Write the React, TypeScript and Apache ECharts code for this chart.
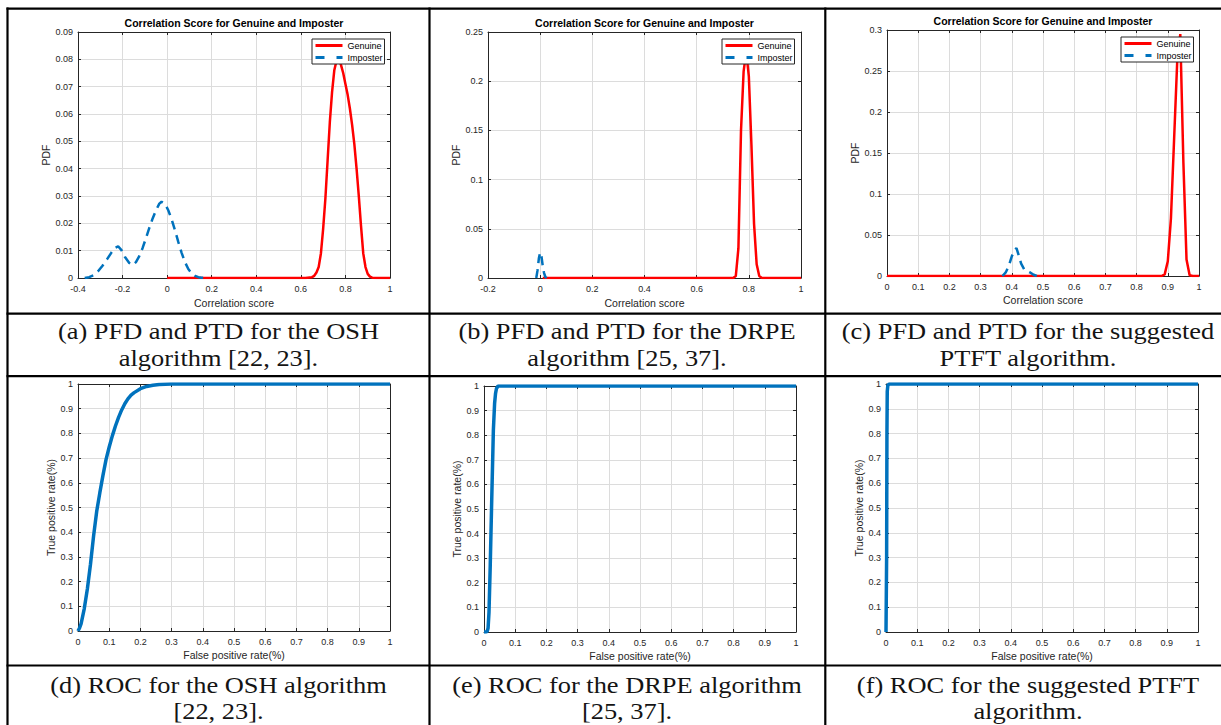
import React, { useEffect, useRef } from "react";
import * as echarts from "echarts";

const W = 1221;
const H = 725;
const SANS = "Liberation Sans, Arial, Helvetica, sans-serif";
const SERIF = "Liberation Serif, Times New Roman, serif";
const RED = "#ff0000";
const BLUE = "#0072bd";
const AXIS = "#262626";
const GRIDC = "#dcdcdc";

const TITLE = "Correlation Score for Genuine and Imposter";
const PDF_X_NAME = "Correlation score";
const PDF_Y_NAME = "PDF";
const ROC_X_NAME = "False positive rate(%)";
const ROC_Y_NAME = "True positive rate(%)";
const LEGEND_NAMES = ["Genuine", "Imposter"];

// (a) OSH PDF
const oshGenX = [0, 0.62, 0.65, 0.66, 0.67, 0.68, 0.69, 0.7, 0.71, 0.72, 0.73, 0.74, 0.75, 0.76, 0.77, 0.78, 0.79, 0.8, 0.81, 0.82, 0.83, 0.84, 0.85, 0.86, 0.87, 0.88, 0.89, 0.9, 0.91, 0.92, 0.94, 1];
const oshGenY = [0, 0, 0.0003, 0.0008, 0.002, 0.004, 0.009, 0.018, 0.029, 0.043, 0.057, 0.068, 0.076, 0.0795, 0.08, 0.078, 0.075, 0.071, 0.067, 0.062, 0.056, 0.049, 0.04, 0.03, 0.019, 0.009, 0.004, 0.0015, 0.0005, 0.0001, 0, 0];
const oshImpX = [-0.37, -0.35, -0.33, -0.31, -0.29, -0.27, -0.25, -0.235, -0.22, -0.205, -0.19, -0.17, -0.155, -0.14, -0.125, -0.11, -0.095, -0.08, -0.065, -0.05, -0.035, -0.025, -0.01, 0.005, 0.02, 0.035, 0.05, 0.065, 0.08, 0.095, 0.11, 0.125, 0.14, 0.155, 0.17];
const oshImpY = [0, 0.0003, 0.001, 0.0025, 0.0045, 0.0068, 0.0093, 0.011, 0.0116, 0.0102, 0.0078, 0.0055, 0.0047, 0.0058, 0.008, 0.011, 0.0146, 0.0183, 0.0218, 0.0248, 0.0272, 0.0279, 0.0272, 0.0248, 0.0215, 0.0175, 0.0132, 0.0092, 0.0058, 0.0033, 0.0017, 0.0008, 0.0003, 0.0001, 0];

// (b) DRPE PDF
const drpeGenX = [0.01, 0.74, 0.75, 0.76, 0.77, 0.78, 0.79, 0.8, 0.81, 0.82, 0.83, 0.84, 0.85, 1];
const drpeGenY = [0, 0, 0.002, 0.03, 0.15, 0.21, 0.23, 0.205, 0.135, 0.055, 0.014, 0.002, 0, 0];
const drpeImpX = [-0.015, -0.01, -0.005, 0, 0.005, 0.01, 0.015, 0.02, 0.025];
const drpeImpY = [0, 0.008, 0.02, 0.026, 0.022, 0.012, 0.005, 0.001, 0];

// (c) PTFT PDF
const ptftGenX = [0, 0.88, 0.89, 0.9, 0.91, 0.92, 0.93, 0.94, 0.95, 0.96, 0.97, 0.98, 1];
const ptftGenY = [0, 0, 0.002, 0.018, 0.07, 0.165, 0.26, 0.295, 0.138, 0.02, 0.001, 0, 0];
const ptftImpX = [0.37, 0.38, 0.39, 0.4, 0.41, 0.415, 0.42, 0.43, 0.44, 0.45, 0.46, 0.47, 0.48];
const ptftImpY = [0, 0.004, 0.012, 0.024, 0.032, 0.034, 0.028, 0.015, 0.008, 0.006, 0.004, 0.0015, 0];

// (d) OSH ROC
const oshRocX = [0, 0.005, 0.01, 0.02, 0.03, 0.04, 0.05, 0.06, 0.07, 0.08, 0.09, 0.1, 0.11, 0.12, 0.13, 0.14, 0.15, 0.16, 0.17, 0.18, 0.2, 0.22, 0.24, 0.26, 0.28, 0.3, 1];
const oshRocY = [0, 0.012, 0.03, 0.09, 0.17, 0.27, 0.385, 0.485, 0.56, 0.63, 0.695, 0.745, 0.79, 0.83, 0.865, 0.895, 0.92, 0.94, 0.955, 0.965, 0.981, 0.99, 0.995, 0.998, 0.999, 1, 1];

// (e) DRPE ROC
const drpeRocX = [0, 0.005, 0.01, 0.013, 0.016, 0.02, 0.025, 0.03, 0.034, 0.037, 0.04, 0.045, 1];
const drpeRocY = [0, 0, 0.002, 0.015, 0.08, 0.27, 0.55, 0.82, 0.93, 0.97, 0.99, 1, 1];

// (f) PTFT ROC
const ptftRocX = [0, 0.002, 0.003, 0.004, 0.006, 0.01, 1];
const ptftRocY = [0, 0.3, 0.8, 0.97, 0.995, 1, 1];

const captionsTop = [
  ["(a) PFD and PTD for the OSH", "algorithm [22, 23]."],
  ["(b) PFD and PTD for the DRPE", "algorithm [25, 37]."],
  ["(c) PFD and PTD for the suggested", "PTFT algorithm."],
];
const captionsBottom = [
  ["(d) ROC for the OSH algorithm", "[22, 23]."],
  ["(e) ROC for the DRPE algorithm", "[25, 37]."],
  ["(f) ROC for the suggested PTFT", "algorithm."],
];

const zip = (xs: number[], ys: number[]) => xs.map((x, i) => [x, ys[i]]);

type Panel = {
  grid: { left: number; top: number; width: number; height: number };
  x: { min: number; max: number; interval: number; name: string; gap: number };
  y: { min: number; max: number; interval: number; name: string; gap: number };
};

const panels: Panel[] = [
  { grid: { left: 78, top: 32, width: 312, height: 246 }, x: { min: -0.4, max: 1, interval: 0.2, name: PDF_X_NAME, gap: 19 }, y: { min: 0, max: 0.09, interval: 0.01, name: PDF_Y_NAME, gap: 25 } },
  { grid: { left: 488, top: 32, width: 313, height: 246 }, x: { min: -0.2, max: 1, interval: 0.2, name: PDF_X_NAME, gap: 19 }, y: { min: 0, max: 0.25, interval: 0.05, name: PDF_Y_NAME, gap: 25 } },
  { grid: { left: 887, top: 30, width: 312, height: 246 }, x: { min: 0, max: 1, interval: 0.1, name: PDF_X_NAME, gap: 18.5 }, y: { min: 0, max: 0.3, interval: 0.05, name: PDF_Y_NAME, gap: 26 } },
  { grid: { left: 78, top: 384, width: 312, height: 247 }, x: { min: 0, max: 1, interval: 0.1, name: ROC_X_NAME, gap: 18 }, y: { min: 0, max: 1, interval: 0.1, name: ROC_Y_NAME, gap: 22 } },
  { grid: { left: 484, top: 386, width: 312, height: 246 }, x: { min: 0, max: 1, interval: 0.1, name: ROC_X_NAME, gap: 18 }, y: { min: 0, max: 1, interval: 0.1, name: ROC_Y_NAME, gap: 21 } },
  { grid: { left: 886, top: 384, width: 312, height: 248 }, x: { min: 0, max: 1, interval: 0.1, name: ROC_X_NAME, gap: 18 }, y: { min: 0, max: 1, interval: 0.1, name: ROC_Y_NAME, gap: 21 } },
];

function buildOption() {
  const grids: any[] = [];
  const xAxes: any[] = [];
  const yAxes: any[] = [];
  const lineStyle = { color: AXIS, width: 1 };
  panels.forEach((p, i) => {
    grids.push({ ...p.grid, containLabel: false, show: false });
    const common = (a: any) => ({
      type: "value",
      gridIndex: i,
      min: a.min,
      max: a.max,
      interval: a.interval,
      axisLine: { show: true, onZero: false, lineStyle },
      axisTick: { show: true, inside: true, length: 3, lineStyle },
    });
    xAxes.push({
      ...common(p.x),
      position: "bottom",
      axisLabel: { fontSize: 9, color: AXIS, margin: 6, fontFamily: SANS },
      splitLine: { show: true, lineStyle: { color: GRIDC, width: 1 } },
      name: p.x.name,
      nameLocation: "middle",
      nameGap: p.x.gap,
      nameTextStyle: { fontSize: 10.5, color: AXIS, fontFamily: SANS },
    });
    xAxes.push({ ...common(p.x), position: "top", axisLabel: { show: false }, splitLine: { show: false } });
    yAxes.push({
      ...common(p.y),
      position: "left",
      axisLabel: { fontSize: 9, color: AXIS, margin: 5, fontFamily: SANS },
      splitLine: { show: true, lineStyle: { color: GRIDC, width: 1 } },
      name: p.y.name,
      nameLocation: "middle",
      nameGap: p.y.gap,
      nameTextStyle: { fontSize: 10.5, color: AXIS, fontFamily: SANS },
    });
    yAxes.push({ ...common(p.y), position: "right", axisLabel: { show: false }, splitLine: { show: false } });
  });

  const genuine = (i: number, xs: number[], ys: number[]) => ({
    type: "line",
    name: "Genuine",
    xAxisIndex: 2 * i,
    yAxisIndex: 2 * i,
    data: zip(xs, ys),
    symbol: "none",
    z: 3,
    itemStyle: { color: RED },
    lineStyle: { color: RED, width: 2.5 },
  });
  const imposter = (i: number, xs: number[], ys: number[]) => ({
    type: "line",
    name: "Imposter",
    xAxisIndex: 2 * i,
    yAxisIndex: 2 * i,
    data: zip(xs, ys),
    symbol: "none",
    z: 4,
    itemStyle: { color: BLUE },
    lineStyle: { color: BLUE, width: 2.5, type: [9, 6] },
  });
  const roc = (i: number, name: string, xs: number[], ys: number[]) => ({
    type: "line",
    name,
    xAxisIndex: 2 * i,
    yAxisIndex: 2 * i,
    data: zip(xs, ys),
    symbol: "none",
    z: 3,
    itemStyle: { color: BLUE },
    lineStyle: { color: BLUE, width: 3.5 },
  });

  const series = [
    genuine(0, oshGenX, oshGenY),
    imposter(0, oshImpX, oshImpY),
    genuine(1, drpeGenX, drpeGenY),
    imposter(1, drpeImpX, drpeImpY),
    genuine(2, ptftGenX, ptftGenY),
    imposter(2, ptftImpX, ptftImpY),
    roc(3, "ROC OSH", oshRocX, oshRocY),
    roc(4, "ROC DRPE", drpeRocX, drpeRocY),
    roc(5, "ROC PTFT", ptftRocX, ptftRocY),
  ];

  const legendPos = [
    { left: 312, top: 39 },
    { left: 722, top: 39 },
    { left: 1121, top: 37 },
  ];
  const legend = legendPos.map((pos) => ({
    ...pos,
    orient: "vertical",
    data: [
      { name: LEGEND_NAMES[0], lineStyle: { width: 3 } },
      { name: LEGEND_NAMES[1], lineStyle: { width: 3, type: [9, 12] } },
    ],
    selectedMode: false,
    itemWidth: 27,
    itemHeight: 9,
    itemGap: 3,
    padding: [2, 2, 2, 2],
    borderColor: AXIS,
    borderWidth: 1,
    borderRadius: 0,
    backgroundColor: "#ffffff",
    itemStyle: { opacity: 0, borderWidth: 0 },
    textStyle: { fontSize: 9, color: "#000", fontFamily: SANS },
  }));

  const title = [
    { left: 234, top: 17 },
    { left: 644.5, top: 17 },
    { left: 1043, top: 15 },
  ].map((pos) => ({
    ...pos,
    text: TITLE,
    textAlign: "center",
    padding: 0,
    textStyle: { fontSize: 10.5, fontWeight: "bold", color: "#000", fontFamily: SANS },
  }));

  const graphic: any[] = [];
  const hLines = [8.7, 313.7, 376.2, 665.5];
  const vLines = [7.5, 429.5, 825.3];
  hLines.forEach((y) =>
    graphic.push({ type: "line", shape: { x1: 6.5, y1: y, x2: W, y2: y }, style: { stroke: "#000", lineWidth: 2.2 }, z: 10 })
  );
  vLines.forEach((x) =>
    graphic.push({ type: "line", shape: { x1: x, y1: 7.6, x2: x, y2: H }, style: { stroke: "#000", lineWidth: 2.2 }, z: 10 })
  );
  const capX = [218.5, 627, 1028];
  const addCaps = (caps: string[][], ys: number[]) =>
    caps.forEach((lines, i) =>
      lines.forEach((t, j) =>
        graphic.push({
          type: "text",
          x: capX[i],
          y: ys[j],
          scaleX: 1.1,
          z: 10,
          style: {
            text: t,
            textAlign: "center",
            textVerticalAlign: "middle",
            fontSize: 24,
            fontFamily: SERIF,
            fill: "#141414",
          },
        })
      )
    );
  addCaps(captionsTop, [331, 357.5]);
  addCaps(captionsBottom, [684.5, 711]);

  return {
    animation: false,
    backgroundColor: "#ffffff",
    title,
    legend,
    grid: grids,
    xAxis: xAxes,
    yAxis: yAxes,
    series,
    graphic,
  };
}

export default function App() {
  const ref = useRef<HTMLDivElement>(null);
  useEffect(() => {
    if (!ref.current) return;
    const chart = echarts.init(ref.current, null, { renderer: "svg", width: W, height: H });
    chart.setOption(buildOption() as any);
    return () => chart.dispose();
  }, []);
  return (
    <div
      ref={ref}
      style={{ position: "absolute", left: 0, top: 0, width: W, height: H, background: "#fff" }}
    />
  );
}
